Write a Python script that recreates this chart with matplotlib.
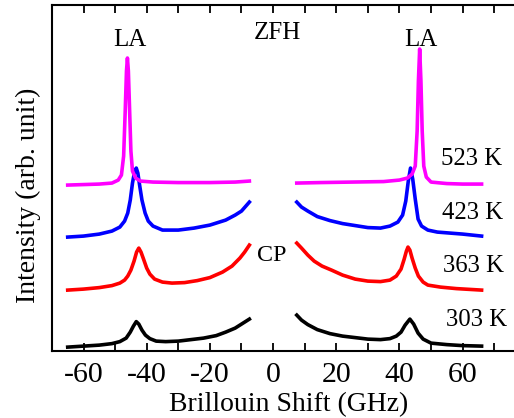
import matplotlib.pyplot as plt

plt.rcParams['font.family'] = ['Liberation Serif', 'DejaVu Serif']
plt.rcParams['axes.unicode_minus'] = False

# Brillouin spectra (x in GHz, intensity in arb. units, offset already included)
# left (anti-Stokes) and right (Stokes) halves, the central region is cut out
x_523_left = [-65, -60, -55, -51, -49, -48, -47.3, -46.8, -46.4, -46.1, -45.8, -45.4, -45.0, -44.5,
              -43.5, -42, -38, -30, -20, -12, -7.5]
y_523_left = [166, 166.5, 167, 168, 171, 176, 195, 240, 280, 293, 280, 240, 200, 180,
              173, 170, 169, 168.5, 168.5, 169, 170]
x_523_right = [7.5, 15, 25, 35, 40, 42.5, 44, 45, 45.6, 46.0, 46.4, 46.8, 47.2, 47.7, 48.5, 50, 55, 60, 66]
y_523_right = [168, 168.5, 169, 169.5, 171, 173, 177, 185, 220, 270, 302, 270, 220, 185, 174, 169, 167.5, 167, 167]

x_423_left = [-65, -60, -55, -51, -48.5, -47, -46, -45.2, -44.5, -43.8, -43.3, -42.8, -42.2, -41.5,
              -40.5, -39.5, -38, -35, -30, -25, -20, -15, -12, -10, -7.5]
y_423_left = [114, 115, 117, 120, 124, 130, 138, 151, 168, 180, 183, 178, 165, 151,
              138, 130, 125, 121, 121, 123, 126, 131, 136, 140, 149]
x_423_right = [7.5, 9, 11, 14, 18, 22, 26, 30, 34, 37, 39.5, 41, 42, 42.8, 43.5, 44.2, 45, 45.9,
               47, 49, 52, 56, 60, 66]
y_423_right = [149, 144, 140, 134.5, 130.5, 127.5, 125.5, 123.5, 123, 125, 129, 136, 150, 170, 183, 172, 152, 132,
               125, 121, 119, 118, 117, 115]

x_363_left = [-65, -60, -55, -51, -48.5, -47, -46, -45, -44, -43.2, -42.5, -41.8, -41, -40, -39,
              -37.5, -35, -32, -28, -24, -20, -16, -13, -10.5, -9, -7.5]
y_363_left = [61, 62, 63.5, 65.5, 68, 71, 75, 81, 90, 99, 103, 99, 92, 83, 77,
              72, 69, 68, 68.5, 70.5, 73.5, 79, 85, 93, 99, 106]
x_363_right = [7.5, 9, 11, 13, 15.5, 18.5, 22, 26, 30, 34, 37, 39, 40.5, 41.5, 42.2, 42.7, 43.3, 44,
               45, 46, 47.5, 49, 53, 58, 66]
y_363_right = [108, 103, 96, 90, 85, 81, 76, 72, 70, 69.5, 71, 75, 82, 92, 100, 104, 101, 93,
               83, 75, 69, 66, 64, 62.5, 61]

x_303_left = [-65, -60, -55, -51, -48.5, -46.5, -45.2, -44.2, -43.3, -42.5, -41.5, -40.4, -39, -37,
              -34, -30, -26, -22, -18, -15, -12, -10, -7.5]
y_303_left = [4, 5, 6, 7.5, 9.5, 13, 19, 25, 29.5, 27, 21, 16, 12.5, 10,
              9.5, 10, 11.5, 13, 15.5, 19, 23, 27, 32]
x_303_right = [7.5, 9, 11, 14, 18, 22, 26, 30, 34, 37, 39, 40.5, 41.8, 43.3, 44.5, 45.9, 47.5,
               50, 55, 60, 66]
y_303_right = [36, 31, 26.5, 21.5, 17.5, 15, 13.5, 12, 11.5, 12.5, 15, 19, 26, 32, 27, 18, 12,
               8, 6.5, 5.5, 5]

temps = ['303 K', '363 K', '423 K', '523 K']
colors = ['black', 'red', 'blue', 'magenta']
curves = [
    (x_303_left, y_303_left, x_303_right, y_303_right),
    (x_363_left, y_363_left, x_363_right, y_363_right),
    (x_423_left, y_423_left, x_423_right, y_423_right),
    (x_523_left, y_523_left, x_523_right, y_523_right),
]
label_pos = [(64.4, 31), (63.5, 85), (63.2, 138), (62.8, 192)]

fig = plt.figure(figsize=(5.14, 4.18), dpi=100)
ax = fig.add_axes([0.101, 0.160, 1.023 - 0.101, 0.828])

for (xl, yl, xr, yr), c in zip(curves, colors):
    ax.plot(xl, yl, color=c, lw=2.6)
    ax.plot(xr, yr, color=c, lw=2.6)

for t, (tx, ty) in zip(temps, label_pos):
    ax.text(tx, ty, t, fontsize=17.8, ha='center', va='center')

ax.text(-45.2, 311, 'LA', fontsize=18, ha='center', va='center')
ax.text(46.7, 311, 'LA', fontsize=18, ha='center', va='center')
ax.text(1.3, 318, 'ZFH', fontsize=18, ha='center', va='center')
ax.text(-0.3, 96, 'CP', fontsize=17.3, ha='center', va='center')

ax.set_xlim(-70, 80)
ax.set_ylim(0, 346)
ax.set_xticks([-60, -40, -20, 0, 20, 40, 60])
ax.set_xticks(range(-70, 81, 10), minor=True)
ax.set_yticks([])
ax.tick_params(axis='x', which='both', direction='in', top=True, length=6, width=1.3,
               labelsize=21.5, pad=8)
for s in ax.spines.values():
    s.set_linewidth(1.5)

ax.set_xlabel('Brillouin Shift (GHz)', fontsize=20, labelpad=3)
ax.set_ylabel('Intensity (arb. unit)', fontsize=20)
ax.yaxis.set_label_coords(-0.024, 0.45)

fig.savefig('out.png', dpi=100)
